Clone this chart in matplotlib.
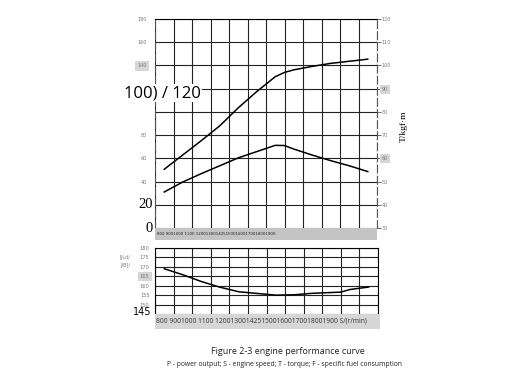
import numpy as np
import matplotlib.pyplot as plt
from matplotlib.transforms import blended_transform_factory

# engine speed (r/min) and curves
speed = [800, 900, 1000, 1100, 1200, 1300, 1400, 1450, 1500, 1600, 1700, 1800, 1900]
power = [50.6, 62.9, 75.2, 88.0, 103.5, 117.5, 130.3, 134.0, 136.2, 139.2, 141.8, 143.6, 145.4]
torque = [45.5, 49.8, 53.4, 56.8, 60.2, 62.9, 65.6, 65.5, 64.0, 61.4, 59.0, 56.8, 54.3]

fuel_speed = [800, 900, 1000, 1100, 1200, 1300, 1400, 1500, 1600, 1700, 1750, 1800, 1900]
fuel = [169.0, 165.8, 162.2, 159.2, 156.8, 155.9, 155.0, 155.2, 156.0, 156.4, 156.6, 158.0, 159.3]

left_ticks = [0, 20, 40, 60, 80, 100, 120, 140, 160, 180]
left_labels = ['', '', '40', '60', '80', '', '', '140', '160', '180']
right_ticks = [30, 40, 50, 60, 70, 80, 90, 100, 110, 120]
fuel_ticks = [145, 150, 155, 160, 165, 170, 175, 180]
fuel_labels = ['', '150', '155', '160', '165', '170', '175', '180']
speed_text = "800 9001000 1100 12001300142515001600170018001900"

W, H = 512, 381

def rect(l, t, r, b):
    return [l / W, 1 - b / H, (r - l) / W, (b - t) / H]

fig = plt.figure(figsize=(W / 100, H / 100), dpi=100)
grey = '#7a7a7a'

# ---- top chart: power (left) and torque (right)
ax = fig.add_axes(rect(155, 19, 377, 228))
ax.set_xlim(750, 1950)
ax.set_ylim(0, 180)
ax.set_xticks(np.arange(750, 1951, 100))
ax.set_xticklabels([])
ax.set_yticks(left_ticks)
lbls = ax.set_yticklabels(left_labels, fontsize=3.5, color=grey)
ax.tick_params(axis='x', length=0)
ax.tick_params(axis='y', length=0, pad=6)
ax.grid(color='#222222', lw=0.8)
ax.plot(speed, power, color='black', lw=1.1)
for s in ['left', 'right']:
    ax.spines[s].set_linestyle((0, (7, 3)))
    ax.spines[s].set_linewidth(0.8)
    ax.spines[s].set_color('#555555')
ax.spines['bottom'].set_visible(False)
ax.spines['top'].set_linewidth(0.8)
for t in lbls:
    if t.get_text() == '140':
        t.set_bbox(dict(facecolor='#d6d6d6', edgecolor='none', pad=1.5))

tr = blended_transform_factory(ax.transAxes, ax.transData)
for v in [0, 20]:
    ax.text(-0.01, v, str(v), transform=tr, ha='right', va='center',
            fontsize=10.5, family='Liberation Serif')

ax2 = ax.twinx()
ax2.set_ylim(30, 120)
ax2.set_yticks(right_ticks)
rl = ax2.set_yticklabels([str(v) for v in right_ticks], fontsize=3.5, color=grey)
ax2.tick_params(axis='y', length=3, width=0.6, color='#555555', pad=0.5)
for s in ax2.spines.values():
    s.set_visible(False)
ax2.plot(speed, torque, color='black', lw=1.1)
for t in rl:
    if t.get_text() in ('90', '60'):
        t.set_bbox(dict(facecolor='#d6d6d6', edgecolor='none', pad=1.5))

fig.text(404 / W, 1 - 126 / H, 'T/kgf·m', rotation=90, ha='center', va='center',
         fontsize=6.8, family='Liberation Serif')

fig.text(162 / W, 1 - 93 / H, '100) / 120', ha='center', va='center', fontsize=12,
         family='Open Sans',
         bbox=dict(facecolor='white', edgecolor='none', pad=1))

band1 = fig.add_axes(rect(155, 228, 377, 240))
band1.set_facecolor('#c4c4c4')
band1.set_xticks([])
band1.set_yticks([])
for s in band1.spines.values():
    s.set_visible(False)
band1.text(0.01, 0.5, speed_text, transform=band1.transAxes, ha='left', va='center',
           fontsize=2.8, color='#222222')

# ---- bottom chart: specific fuel consumption
bx = fig.add_axes(rect(155, 248, 378, 314))
bx.set_xlim(750, 1950)
bx.set_ylim(145, 180)
bx.set_xticks(np.arange(750, 1951, 100))
bx.set_xticklabels([])
bx.set_yticks(fuel_ticks)
fl = bx.set_yticklabels(fuel_labels, fontsize=3.7, color=grey)
bx.tick_params(axis='both', length=0)
bx.tick_params(axis='y', pad=4)
bx.grid(color='#222222', lw=0.8)
bx.plot(fuel_speed, fuel, color='black', lw=1.1)
for s in bx.spines.values():
    s.set_linewidth(0.8)
bx.spines['bottom'].set_visible(False)
for t in fl:
    if t.get_text() == '165':
        t.set_bbox(dict(facecolor='#d6d6d6', edgecolor='none', pad=1.5))
trb = blended_transform_factory(bx.transAxes, bx.transData)
bx.text(-0.015, 146, '145', transform=trb, ha='right', va='center', fontsize=7)
bx.text(-0.11, 175, '[JLd/', transform=trb, ha='right', va='center', fontsize=3.5, color=grey)
bx.text(-0.11, 170.5, 'J/B]/', transform=trb, ha='right', va='center', fontsize=3.5, color=grey)

band2 = fig.add_axes(rect(155, 314, 380, 329))
band2.set_facecolor('#d6d6d6')
band2.set_xticks([])
band2.set_yticks([])
for s in band2.spines.values():
    s.set_visible(False)
band2.text(0.005, 0.5, speed_text + ' S/(r/min)', transform=band2.transAxes,
           ha='left', va='center', fontsize=4.8, color='#333333', family='Open Sans')

# ---- caption
fig.text(288 / W, 1 - 351 / H, 'Figure 2-3 engine performance curve', ha='center',
         va='center', fontsize=6.5, family='Open Sans', color='#222222')
fig.text(284 / W, 1 - 365 / H,
         'P - power output; S - engine speed; T - torque; F - specific fuel consumption',
         ha='center', va='center', fontsize=4.9, family='Open Sans', color='#222222')

fig.savefig('out.png', dpi=100)
